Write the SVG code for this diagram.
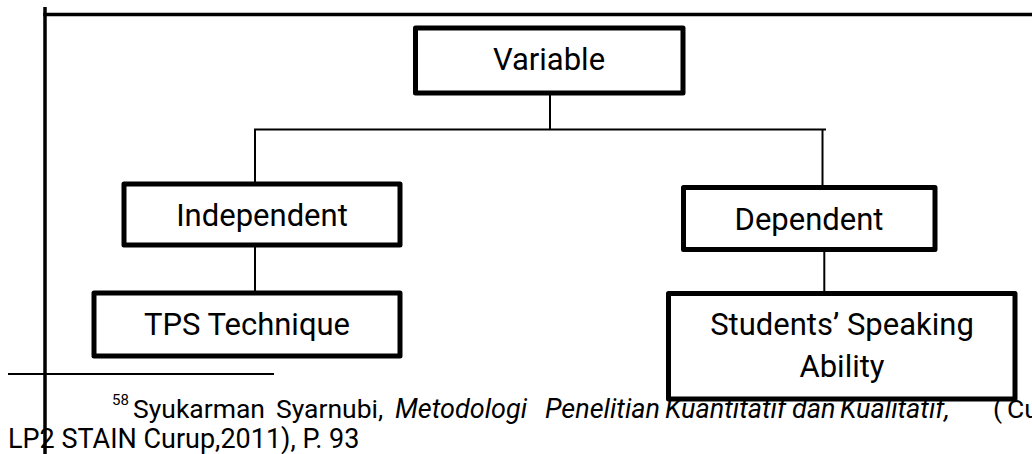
<svg xmlns="http://www.w3.org/2000/svg" width="1032" height="454" viewBox="0 0 1032 454">
<style>
.box{fill:#fff;stroke:#000;stroke-width:5;stroke-linejoin:round}
.lbl{font-family:Roboto,"Liberation Sans",sans-serif;font-size:31px;fill:#000;text-anchor:middle}
.fn{font-family:Roboto,"Liberation Sans",sans-serif;font-size:26.5px;fill:#000}
.sup{font-family:Roboto,"Liberation Sans",sans-serif;font-size:15px;fill:#000}
.it{font-style:italic;font-size:27px}
.conn line{stroke:#000;stroke-width:2}
.frame{stroke:#000;stroke-width:3.5}
</style>
<rect width="1032" height="454" fill="#fff"/>
<g id="footnote">
<text class="sup" x="112" y="405">58</text>
<text class="fn" y="418"><tspan x="133">Syukarman</tspan><tspan x="276">Syarnubi,</tspan><tspan x="395" class="it">Metodologi</tspan><tspan x="545" class="it">Penelitian</tspan><tspan x="665" class="it">Kuantitatif</tspan><tspan x="792" class="it">dan</tspan><tspan x="840" class="it">Kualitatif,</tspan><tspan x="993">(</tspan><tspan x="1007">Curup:</tspan></text>
<text class="fn" x="8" y="448" style="font-size:27px">LP2 STAIN Curup,2011), P. 93</text>
<line x1="8" y1="374" x2="274" y2="374" stroke="#000" stroke-width="2"/>
</g>
<g class="conn" id="connectors">
<line x1="550" y1="95" x2="550" y2="129.5"/>
<line x1="254" y1="129.5" x2="826" y2="129.5"/>
<line x1="255" y1="129.5" x2="255" y2="182"/>
<line x1="822.5" y1="129.5" x2="822.5" y2="185"/>
<line x1="255" y1="247" x2="255" y2="291"/>
<line x1="824.3" y1="252" x2="824.3" y2="291"/>
</g>
<g id="node-variable">
<rect class="box" x="415.5" y="28" width="267.5" height="65"/>
<text class="lbl" x="549" y="70">Variable</text>
</g>
<g id="node-independent">
<rect class="box" x="124" y="184" width="276" height="61"/>
<text class="lbl" x="262" y="226">Independent</text>
</g>
<g id="node-dependent">
<rect class="box" x="683.5" y="187.5" width="251.5" height="62"/>
<text class="lbl" x="809" y="230">Dependent</text>
</g>
<g id="node-tps">
<rect class="box" x="94" y="293" width="306" height="63"/>
<text class="lbl" x="247" y="335">TPS Technique</text>
</g>
<g id="node-speaking">
<rect class="box" x="668.5" y="293.5" width="346.5" height="105.5"/>
<text class="lbl" x="842" y="335">Students’ Speaking</text>
<text class="lbl" x="842" y="377">Ability</text>
</g>
<g id="frame">
<line class="frame" x1="45" y1="7" x2="45" y2="454"/>
<line class="frame" x1="43.3" y1="14.5" x2="1032" y2="14.5"/>
</g>
</svg>
